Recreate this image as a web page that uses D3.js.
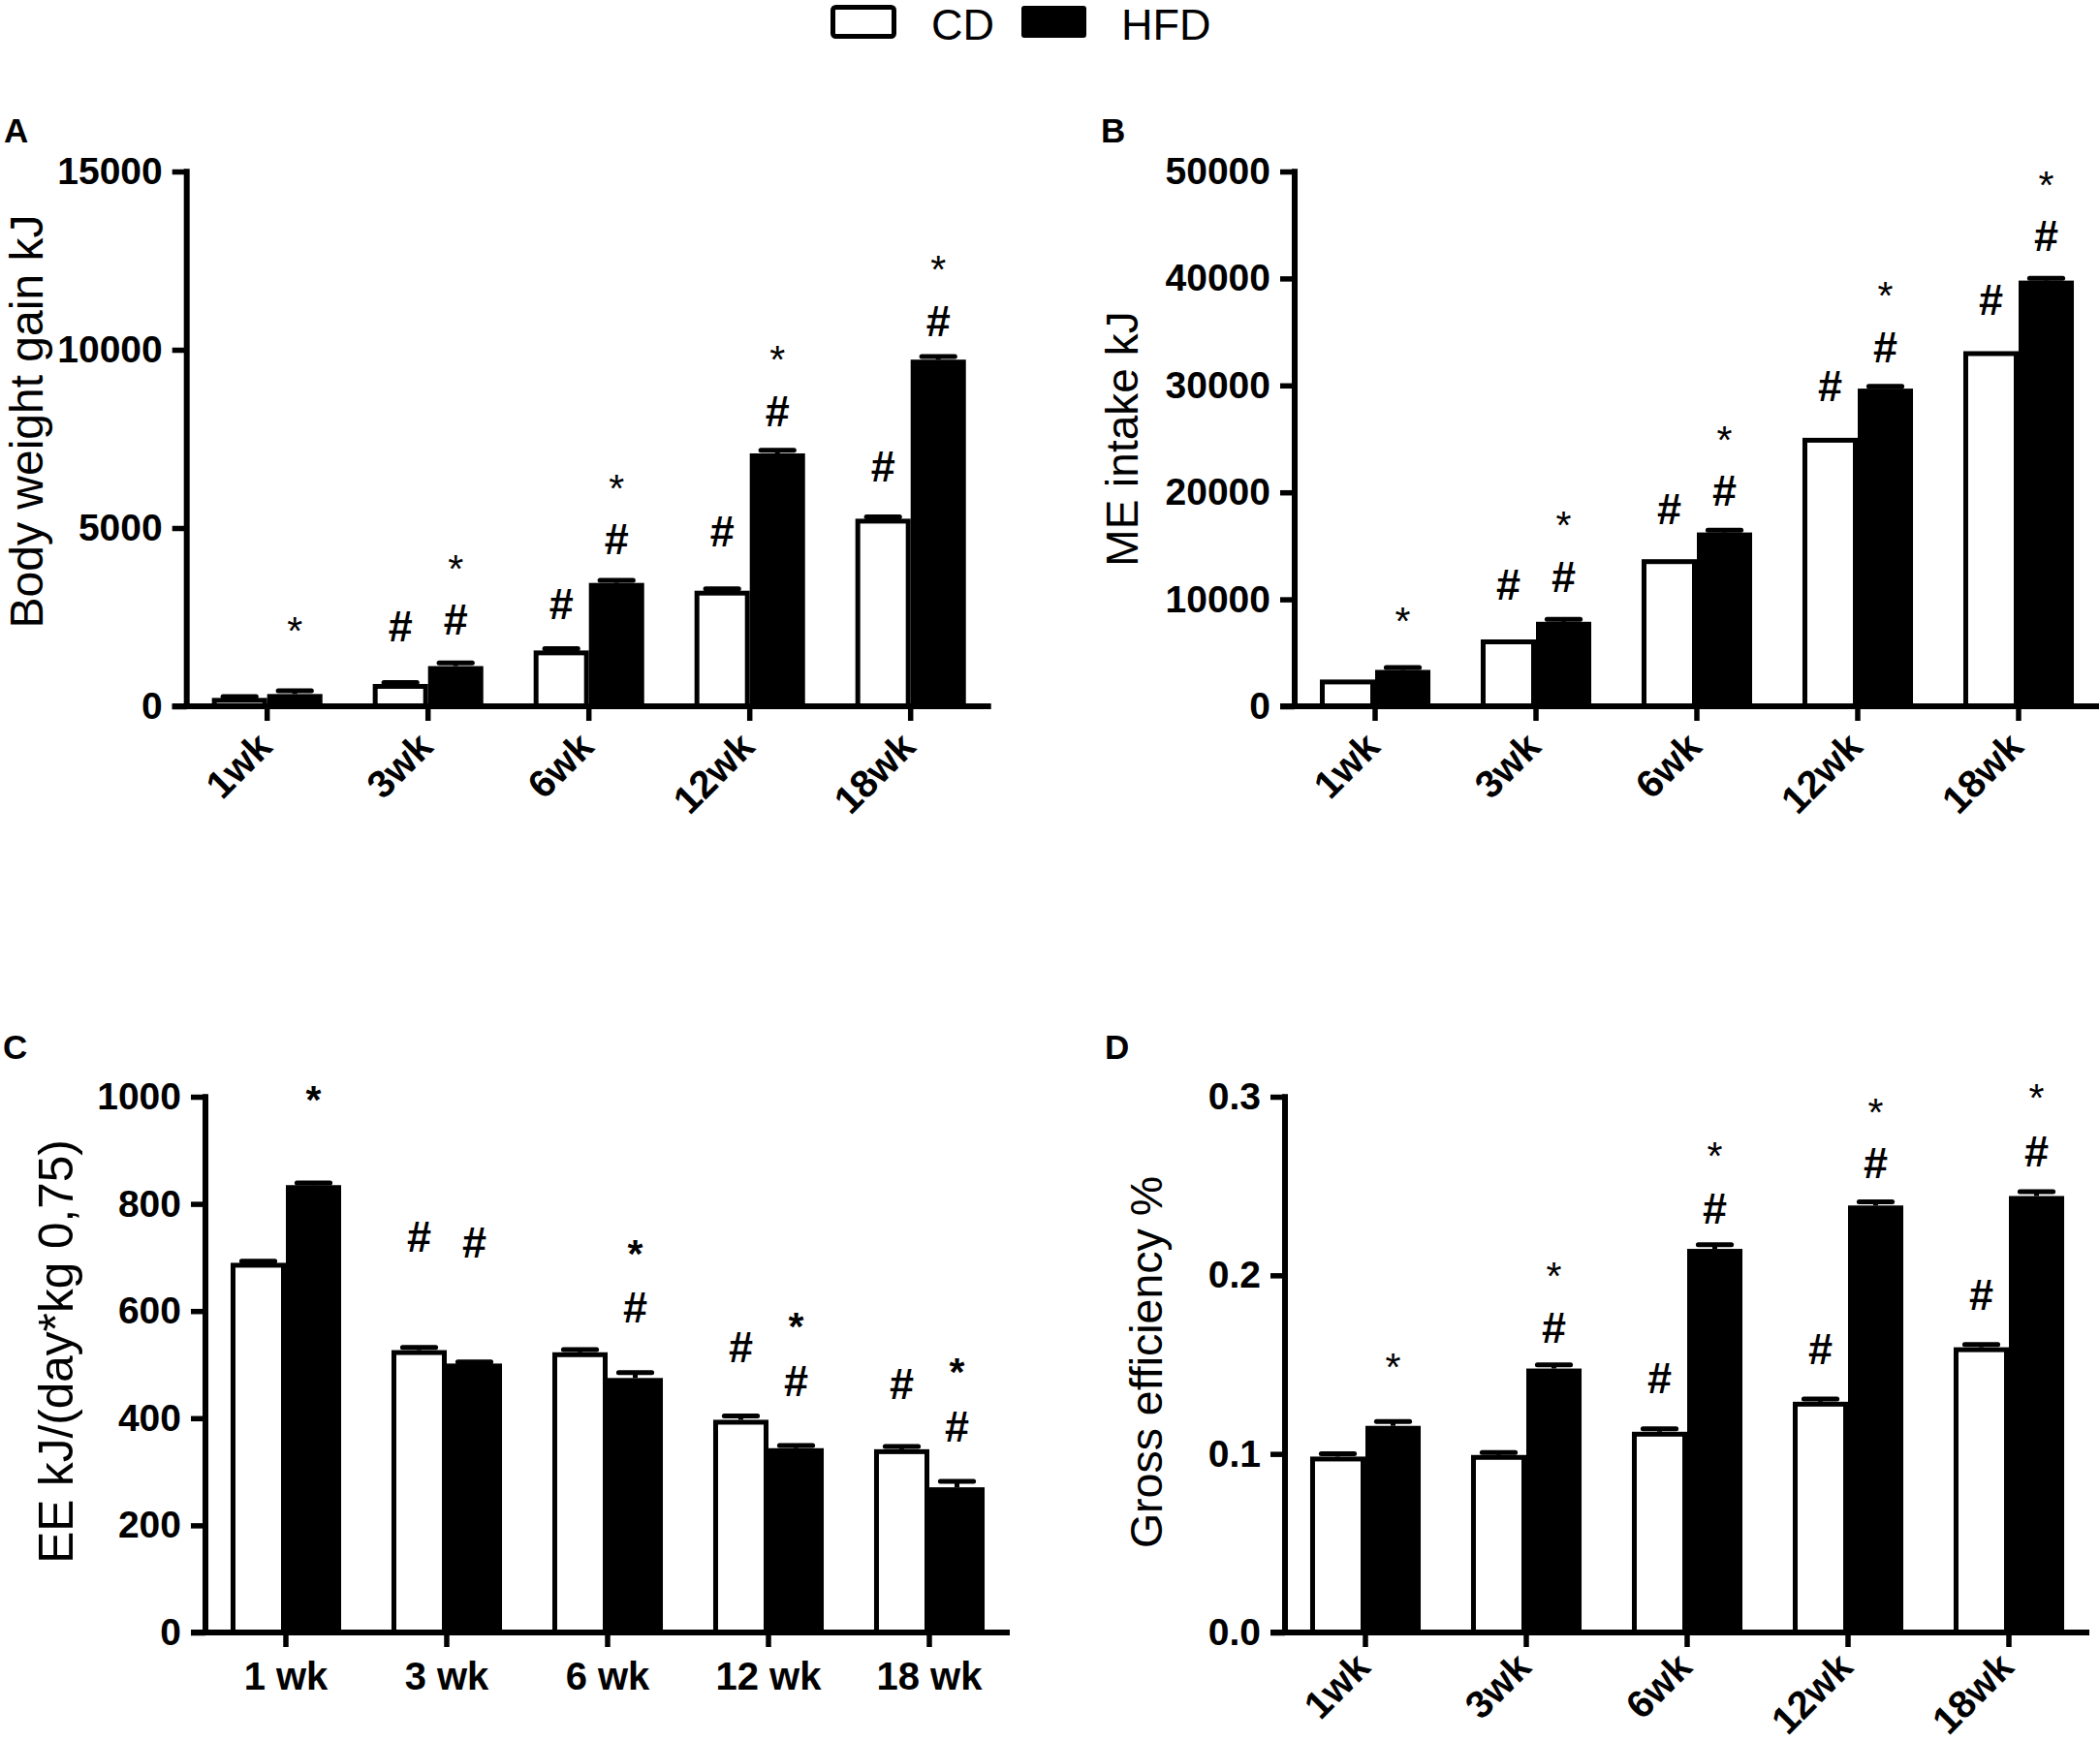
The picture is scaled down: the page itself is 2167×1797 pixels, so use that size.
<!DOCTYPE html>
<html>
<head>
<meta charset="utf-8">
<script src="https://cdn.jsdelivr.net/npm/d3@7"></script>
<style>
  body { margin: 0; background: #fff; }
  svg { display: block; }
</style>
</head>
<body>
<script>
// ---------------- data ----------------
const weeksRotated = ["1wk", "3wk", "6wk", "12wk", "18wk"];
const weeksSpaced = ["1 wk", "3 wk", "6 wk", "12 wk", "18 wk"];
const groups = ["CD", "HFD"];

// A: Body weight gain kJ
const weightCD = [235, 626, 1566, 3242, 5261];
const weightHFD = [344, 1127, 3460, 7093, 9723];
const weightCDErr = [40, 40, 50, 50, 50];
const weightHFDErr = [90, 90, 70, 90, 90];
const weightTicks = [0, 5000, 10000, 15000];
const weightNotes = [
  [0, "HFD", "*", 2396],
  [1, "CD", "#", 2240], [1, "HFD", "#", 2427], [1, "HFD", "*", 4118],
  [2, "CD", "#", 2866], [2, "HFD", "#", 4698], [2, "HFD", "*", 6389],
  [3, "CD", "#", 4901], [3, "HFD", "#", 8268], [3, "HFD", "*", 9991],
  [4, "CD", "#", 6734], [4, "HFD", "#", 10805], [4, "HFD", "*", 12528]
];

// B: ME intake kJ
const intakeCD = [2500, 6250, 13750, 25100, 33200];
const intakeHFD = [3400, 7900, 16250, 29700, 39800];
const intakeCDErr = [0, 0, 0, 0, 0];
const intakeHFDErr = [220, 220, 220, 220, 220];
const intakeTicks = [0, 10000, 20000, 30000, 40000, 50000];
const intakeNotes = [
  [0, "HFD", "*", 8854],
  [1, "CD", "#", 11354], [1, "HFD", "#", 12083], [1, "HFD", "*", 17812],
  [2, "CD", "#", 18490], [2, "HFD", "#", 20208], [2, "HFD", "*", 25780],
  [3, "CD", "#", 29948], [3, "HFD", "#", 33593], [3, "HFD", "*", 39323],
  [4, "CD", "#", 38020], [4, "HFD", "#", 44010], [4, "HFD", "*", 49583]
];

// C: EE kJ/(day*kg 0,75)
const eeCD = [690, 527, 523, 397, 342];
const eeHFD = [835, 502, 475, 344, 271];
const eeCDErr = [3, 5, 5, 7, 5];
const eeHFDErr = [4, 3, 10, 5, 11];
const eeTicks = [0, 200, 400, 600, 800, 1000];
const eeNotes = [
  [0, "HFD", "*", 1013],
  [1, "CD", "#", 739], [1, "HFD", "#", 728],
  [2, "HFD", "*", 725], [2, "HFD", "#", 607],
  [3, "CD", "#", 533], [3, "HFD", "*", 589], [3, "HFD", "#", 469],
  [4, "CD", "#", 464], [4, "HFD", "*", 504], [4, "HFD", "#", 384]
];

// D: Gross efficiency %
const geCD = [0.0985, 0.0994, 0.1124, 0.1292, 0.1597];
const geHFD = [0.1157, 0.1478, 0.2148, 0.2391, 0.2444];
const geCDErr = [0.0016, 0.0014, 0.0016, 0.0016, 0.0016];
const geHFDErr = [0.0024, 0.0020, 0.0024, 0.0020, 0.0024];
const geTicks = [0, 0.1, 0.2, 0.3];
const geNotes = [
  [0, "HFD", "*", 0.1539],
  [1, "HFD", "#", 0.1705], [1, "HFD", "*", 0.2051],
  [2, "CD", "#", 0.1428], [2, "HFD", "#", 0.2375], [2, "HFD", "*", 0.2723],
  [3, "CD", "#", 0.1589], [3, "HFD", "#", 0.2632], [3, "HFD", "*", 0.2964],
  [4, "CD", "#", 0.1893], [4, "HFD", "#", 0.2695], [4, "HFD", "*", 0.3047]
];

// ---------------- drawing ----------------
const FONT = "'Liberation Sans', Arial, Helvetica, sans-serif";
const W = 2167, H = 1797;
const svg = d3.select("body").append("svg")
  .attr("width", W).attr("height", H)
  .style("font-family", FONT);

const panels = [
  { label: "A", labelX: 4, labelY: 147, cats: weeksRotated, cd: weightCD, hfd: weightHFD,
    cdErr: weightCDErr, hfdErr: weightHFDErr, ticks: weightTicks, fmt: d3.format("d"),
    title: "Body weight gain kJ", titleSize: 48, titleX: 44, titleY: 435,
    axisX: 192.7, top: 177, bottom: 729, notes: weightNotes, rotated: true, labelDrop: 44, starBold: false },
  { label: "B", labelX: 1136, labelY: 147, cats: weeksRotated, cd: intakeCD, hfd: intakeHFD,
    cdErr: intakeCDErr, hfdErr: intakeHFDErr, ticks: intakeTicks, fmt: d3.format("d"),
    title: "ME intake kJ", titleSize: 46, titleX: 1174, titleY: 453,
    axisX: 1336, top: 177, bottom: 729, notes: intakeNotes, rotated: true, labelDrop: 44, starBold: false },
  { label: "C", labelX: 3, labelY: 1093, cats: weeksSpaced, cd: eeCD, hfd: eeHFD,
    cdErr: eeCDErr, hfdErr: eeHFDErr, ticks: eeTicks, fmt: d3.format("d"),
    title: "EE kJ/(day*kg 0,75)", titleSize: 49.5, titleX: 75, titleY: 1395,
    axisX: 212, top: 1132, bottom: 1685, notes: eeNotes, rotated: false, labelDrop: 0, starBold: true },
  { label: "D", labelX: 1140, labelY: 1093, cats: weeksRotated, cd: geCD, hfd: geHFD,
    cdErr: geCDErr, hfdErr: geHFDErr, ticks: geTicks, fmt: d3.format(".1f"),
    title: "Gross efficiency %", titleSize: 46.5, titleX: 1199, titleY: 1406,
    axisX: 1326, top: 1132, bottom: 1685, notes: geNotes, rotated: true, labelDrop: 38, starBold: false }
];

const SW = 5;       // bar outline width
const AXW = 6;      // axis line width

panels.forEach(p => {
  const g = svg.append("g");
  const x = d3.scaleBand().domain(p.cats)
    .range([p.axisX, p.axisX + 830]).paddingInner(0.313).paddingOuter(0.1565);
  const xs = d3.scaleBand().domain(groups).range([0, x.bandwidth()]);
  const y = d3.scaleLinear().domain([0, p.ticks[p.ticks.length - 1]]).range([p.bottom, p.top]);

  const vals = { CD: p.cd, HFD: p.hfd };
  const errs = { CD: p.cdErr, HFD: p.hfdErr };

  groups.forEach(s => {
    const data = p.cats.map((c, i) => ({ c, v: vals[s][i], e: errs[s][i] }));
    // error bars (upper half only)
    const eg = g.append("g");
    data.filter(d => d.e > 0).forEach(d => {
      const cx = x(d.c) + xs(s) + xs.bandwidth() / 2;
      const capW = xs.bandwidth() * 0.6;
      eg.append("line").attr("x1", cx).attr("x2", cx)
        .attr("y1", y(d.v)).attr("y2", y(d.v + d.e))
        .attr("stroke", "#000").attr("stroke-width", SW);
      eg.append("line").attr("x1", cx - capW / 2).attr("x2", cx + capW / 2)
        .attr("y1", y(d.v + d.e)).attr("y2", y(d.v + d.e))
        .attr("stroke", "#000").attr("stroke-width", SW).attr("stroke-linecap", "round");
    });
    // bars
    g.append("g").selectAll("rect").data(data).join("rect")
      .attr("x", d => x(d.c) + xs(s) + (s === "CD" ? SW / 2 : 0))
      .attr("width", xs.bandwidth() - (s === "CD" ? SW : 0))
      .attr("y", d => y(d.v) + (s === "CD" ? SW / 2 : 0))
      .attr("height", d => p.bottom - y(d.v) - (s === "CD" ? SW / 2 : 0))
      .attr("fill", s === "CD" ? "#fff" : "#000")
      .attr("stroke", s === "CD" ? "#000" : "none")
      .attr("stroke-width", SW);
  });

  // y axis
  const ya = g.append("g").attr("transform", `translate(${p.axisX},0)`)
    .call(d3.axisLeft(y).tickValues(p.ticks).tickSize(15).tickPadding(10).tickFormat(p.fmt));
  ya.select(".domain").remove();
  ya.selectAll(".tick line").attr("stroke", "#000").attr("stroke-width", 5.5);
  ya.selectAll(".tick text").attr("fill", "#000")
    .style("font-family", FONT).style("font-size", "39px").style("font-weight", "bold");
  g.append("line").attr("x1", p.axisX).attr("x2", p.axisX)
    .attr("y1", p.top - 2.75).attr("y2", p.bottom)
    .attr("stroke", "#000").attr("stroke-width", AXW);

  // x axis
  const xa = g.append("g").attr("transform", `translate(0,${p.bottom})`)
    .call(d3.axisBottom(x).tickSize(15).tickSizeOuter(0).tickPadding(16));
  xa.select(".domain").remove();
  xa.selectAll(".tick line").attr("stroke", "#000").attr("stroke-width", 5.5);
  const xt = xa.selectAll(".tick text").attr("fill", "#000")
    .style("font-family", FONT).style("font-weight", "bold");
  if (p.rotated) {
    xt.style("font-size", "40px")
      .attr("text-anchor", "end")
      .attr("x", 7).attr("y", p.labelDrop).attr("dy", null)
      .attr("transform", `rotate(-45, 7, ${p.labelDrop})`);
  } else {
    xt.style("font-size", "40px");
  }
  g.append("line").attr("x1", p.axisX - 15).attr("x2", p.axisX + 830)
    .attr("y1", p.bottom).attr("y2", p.bottom)
    .attr("stroke", "#000").attr("stroke-width", AXW);

  // significance marks
  p.notes.forEach(([ci, s, sym, v]) => {
    const cx = x(p.cats[ci]) + xs(s) + xs.bandwidth() / 2;
    const isStar = sym === "*";
    const fs = isStar ? 41 : 45;
    g.append("text")
      .attr("x", cx)
      .attr("y", y(v) + (isStar ? 0.58 : 0.35) * fs)
      .attr("text-anchor", "middle")
      .style("font-size", fs + "px")
      .style("font-weight", isStar ? (p.starBold ? "bold" : "normal") : "bold")
      .attr("fill", "#000")
      .text(sym);
  });

  // y title
  g.append("text")
    .attr("transform", `translate(${p.titleX},${p.titleY}) rotate(-90)`)
    .attr("text-anchor", "middle")
    .style("font-size", p.titleSize + "px")
    .attr("fill", "#000")
    .text(p.title);

  // panel label
  g.append("text").attr("x", p.labelX).attr("y", p.labelY)
    .style("font-size", "35px").style("font-weight", "bold").attr("fill", "#000")
    .text(p.label);
});

// legend
const legend = svg.append("g");
legend.append("rect").attr("x", 859.5).attr("y", 7.5).attr("width", 63).attr("height", 30)
  .attr("rx", 3).attr("fill", "#fff").attr("stroke", "#000").attr("stroke-width", 5);
legend.append("text").attr("x", 961).attr("y", 41).style("font-size", "45px").attr("fill", "#000").text(groups[0]);
legend.append("rect").attr("x", 1054).attr("y", 6).attr("width", 67).attr("height", 33)
  .attr("rx", 3).attr("fill", "#000");
legend.append("text").attr("x", 1157).attr("y", 41).style("font-size", "45px").attr("fill", "#000").text(groups[1]);
</script>
</body>
</html>
